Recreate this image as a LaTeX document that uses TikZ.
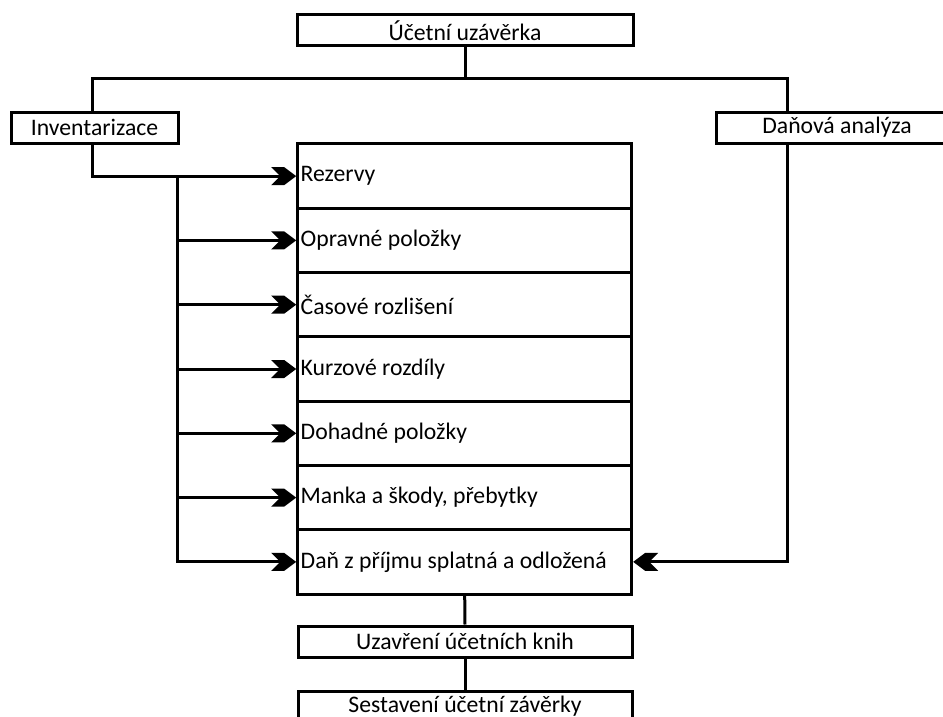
\documentclass[tikz,border=0pt]{standalone}
\usepackage{fontspec}
\setmainfont{Carlito}
\usetikzlibrary{arrows.meta}
\pgfdeclarearrow{
  name = Chev,
  parameters = {},
  setup code = {
    \pgfarrowssettipend{0pt}
    \pgfarrowssetlineend{-14pt}
    \pgfarrowssetbackend{-25pt}
    \pgfarrowssetvisualbackend{-25pt}
    \pgfarrowshullpoint{0pt}{0pt}
    \pgfarrowsupperhullpoint{-25pt}{9pt}
  },
  drawing code = {
    \pgfpathmoveto{\pgfqpoint{0pt}{0pt}}
    \pgfpathlineto{\pgfqpoint{-12pt}{9pt}}
    \pgfpathlineto{\pgfqpoint{-25pt}{9pt}}
    \pgfpathlineto{\pgfqpoint{-16pt}{0pt}}
    \pgfpathlineto{\pgfqpoint{-25pt}{-9pt}}
    \pgfpathlineto{\pgfqpoint{-12pt}{-9pt}}
    \pgfpathclose
    \pgfusepathqfill
  }
}
\newcommand{\rowtext}[1]{\makebox[328pt][l]{#1}}
\tikzset{
  box/.style={draw, line width=3pt, inner sep=0pt, minimum height=31pt,
    font=\fontsize{23.7}{28}\selectfont},
  rowbox/.style={draw, line width=3pt, inner xsep=3pt, inner ysep=0pt,
    minimum height=64.3pt, font=\fontsize{23.7}{28}\selectfont},
  conn/.style={line width=3pt},
  arr/.style={line width=3pt, -{Chev}},
}
\begin{document}
\begin{tikzpicture}[x=1pt,y=-1pt]
\useasboundingbox (0,0) rectangle (943,717);
\fill[white] (0,0) rectangle (943,717);
% boxes
\node[box, minimum width=336pt] (top) at (465,30.5) {Účetní uzávěrka};
\node[box, minimum width=167pt] (inv) at (94.5,127.5) {Inventarizace};
\node[box, minimum width=242pt] (dan) at (837,127.5) {Daňová analýza};
\node[rowbox] (r1) at (464.7,176.1) {\rowtext{Rezervy}};
\node[rowbox] (r2) at (464.7,240.4) {\rowtext{Opravné položky}};
\node[rowbox] (r3) at (464.7,304.7) {\rowtext{Časové rozlišení}};
\node[rowbox] (r4) at (464.7,369.0) {\rowtext{Kurzové rozdíly}};
\node[rowbox] (r5) at (464.7,433.3) {\rowtext{Dohadné položky}};
\node[rowbox] (r6) at (464.7,497.6) {\rowtext{Manka a škody, přebytky}};
\node[rowbox] (r7) at (464.7,561.9) {\rowtext{Daň z příjmu splatná a odložená}};
\node[box, minimum width=334pt] (uz) at (465,641.5) {Uzavření účetních knih};
\node[box, minimum width=334pt] (ses) at (465,706.5) {Sestavení účetní závěrky};
% helper coordinates
\coordinate (j) at (465,79);
\coordinate (il) at (92,79);
\coordinate (dl) at (787,79);
\coordinate (t) at (177,175);
% connectors
\draw[conn] (top.south) -- (j);
\draw[conn] (inv.north -| il) -- (il) -- (dl) -- (dan.north -| dl);
\draw[arr] (inv.south -| il) |- (r1.west);
\draw[arr] (t |- r1.west) |- (r7.west);
\draw[arr] (t |- r2.west) -- (r2.west);
\draw[arr] (t |- r3.west) -- (r3.west);
\draw[arr] (t |- r4.west) -- (r4.west);
\draw[arr] (t |- r5.west) -- (r5.west);
\draw[arr] (t |- r6.west) -- (r6.west);
\draw[arr] (dan.south -| dl) |- (r7.east);
\draw[conn] (r7.south) -- (uz.north);
\draw[conn] (uz.south) -- (ses.north);
\end{tikzpicture}
\end{document}
